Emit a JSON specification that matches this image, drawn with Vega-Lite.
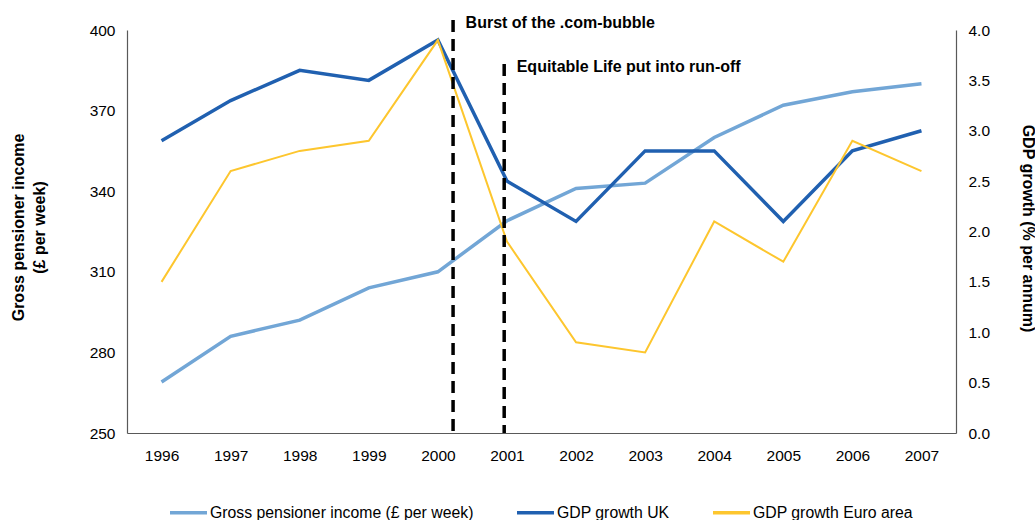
{
  "$schema": "https://vega.github.io/schema/vega-lite/v6.json",
  "width": 829,
  "height": 403,
  "autosize": {"type": "none"},
  "padding": {"left": 127, "top": 30, "right": 79, "bottom": 87},
  "background": "white",
  "config": {
    "view": {"stroke": null},
    "font": "Liberation Sans",
    "axis": {
      "grid": false,
      "ticks": false,
      "domainColor": "#595959",
      "domainWidth": 1.2,
      "labelColor": "#000000",
      "labelFont": "Liberation Sans",
      "labelFontSize": 15.5,
      "labelFlush": false,
      "labelOverlap": false,
      "titleFont": "Liberation Sans",
      "titleFontSize": 16,
      "titleFontWeight": "bold",
      "titleColor": "#000000"
    },
    "legend": {
      "labelFont": "Liberation Sans",
      "labelFontSize": 15.8,
      "labelColor": "#000000",
      "labelLimit": 0
    }
  },
  "datasets": {
    "series": [
      {"year": 1996, "series": "Gross pensioner income (£ per week)", "value": 269},
      {"year": 1997, "series": "Gross pensioner income (£ per week)", "value": 286},
      {"year": 1998, "series": "Gross pensioner income (£ per week)", "value": 292},
      {"year": 1999, "series": "Gross pensioner income (£ per week)", "value": 304},
      {"year": 2000, "series": "Gross pensioner income (£ per week)", "value": 310},
      {"year": 2001, "series": "Gross pensioner income (£ per week)", "value": 329},
      {"year": 2002, "series": "Gross pensioner income (£ per week)", "value": 341},
      {"year": 2003, "series": "Gross pensioner income (£ per week)", "value": 343},
      {"year": 2004, "series": "Gross pensioner income (£ per week)", "value": 360},
      {"year": 2005, "series": "Gross pensioner income (£ per week)", "value": 372},
      {"year": 2006, "series": "Gross pensioner income (£ per week)", "value": 377},
      {"year": 2007, "series": "Gross pensioner income (£ per week)", "value": 380},
      {"year": 1996, "series": "GDP growth UK", "value": 2.9},
      {"year": 1997, "series": "GDP growth UK", "value": 3.3},
      {"year": 1998, "series": "GDP growth UK", "value": 3.6},
      {"year": 1999, "series": "GDP growth UK", "value": 3.5},
      {"year": 2000, "series": "GDP growth UK", "value": 3.9},
      {"year": 2001, "series": "GDP growth UK", "value": 2.5},
      {"year": 2002, "series": "GDP growth UK", "value": 2.1},
      {"year": 2003, "series": "GDP growth UK", "value": 2.8},
      {"year": 2004, "series": "GDP growth UK", "value": 2.8},
      {"year": 2005, "series": "GDP growth UK", "value": 2.1},
      {"year": 2006, "series": "GDP growth UK", "value": 2.8},
      {"year": 2007, "series": "GDP growth UK", "value": 3.0},
      {"year": 1996, "series": "GDP growth Euro area", "value": 1.5},
      {"year": 1997, "series": "GDP growth Euro area", "value": 2.6},
      {"year": 1998, "series": "GDP growth Euro area", "value": 2.8},
      {"year": 1999, "series": "GDP growth Euro area", "value": 2.9},
      {"year": 2000, "series": "GDP growth Euro area", "value": 3.9},
      {"year": 2001, "series": "GDP growth Euro area", "value": 1.9},
      {"year": 2002, "series": "GDP growth Euro area", "value": 0.9},
      {"year": 2003, "series": "GDP growth Euro area", "value": 0.8},
      {"year": 2004, "series": "GDP growth Euro area", "value": 2.1},
      {"year": 2005, "series": "GDP growth Euro area", "value": 1.7},
      {"year": 2006, "series": "GDP growth Euro area", "value": 2.9},
      {"year": 2007, "series": "GDP growth Euro area", "value": 2.6}
    ],
    "events": [
      {"year": 2000.22, "top": 403.7, "bottom": 250, "label": "Burst of the .com-bubble"},
      {"year": 2000.96, "top": 387.3, "bottom": 250, "label": "Equitable Life put into run-off"}
    ]
  },
  "layer": [
    {
      "data": {"name": "series"},
      "transform": [{"filter": "datum.series === 'Gross pensioner income (£ per week)'"}],
      "mark": {"type": "line", "strokeWidth": 3.5},
      "encoding": {
        "x": {
          "field": "year", "type": "quantitative",
          "scale": {"domain": [1995.5, 2007.5], "nice": false, "zero": false},
          "axis": {"title": null, "values": [1996, 1997, 1998, 1999, 2000, 2001, 2002, 2003, 2004, 2005, 2006, 2007], "format": "d", "labelPadding": 15}
        },
        "y": {
          "field": "value", "type": "quantitative",
          "scale": {"domain": [250, 400], "nice": false, "zero": false},
          "axis": {
            "orient": "left",
            "values": [250, 280, 310, 340, 370, 400],
            "labelPadding": 12,
            "title": ["Gross pensioner income", "(£ per week)"],
            "titleAngle": -90,
            "titleAlign": "center",
            "titleBaseline": "middle",
            "titleLineHeight": 21,
            "titleX": -108.5,
            "titleY": 197
          }
        },
        "color": {
          "field": "series", "type": "nominal",
          "scale": {
            "domain": ["Gross pensioner income (£ per week)", "GDP growth UK", "GDP growth Euro area"],
            "range": ["#72A6D6", "#2060B0", "#FDC62E"]
          },
          "legend": {
            "title": null,
            "orient": "none",
            "direction": "horizontal",
            "legendX": 41,
            "legendY": 462,
            "symbolType": "stroke",
            "symbolSize": 1369,
            "symbolStrokeWidth": 3.5,
            "labelOffset": 1,
            "columnPadding": 36
          }
        }
      }
    },
    {
      "data": {"name": "series"},
      "transform": [{"filter": "datum.series !== 'Gross pensioner income (£ per week)'"}],
      "layer": [
        {
          "transform": [{"filter": "datum.series === 'GDP growth UK'"}],
          "mark": {"type": "line", "strokeWidth": 3.5},
          "encoding": {
            "x": {"field": "year", "type": "quantitative"},
            "y": {
              "field": "value", "type": "quantitative",
              "scale": {"domain": [0, 4], "nice": false},
              "axis": {
                "orient": "right",
                "values": [0, 0.5, 1, 1.5, 2, 2.5, 3, 3.5, 4],
                "format": ".1f",
                "labelPadding": 12,
                "title": "GDP growth (% per annum)",
                "titleAngle": 90,
                "titleAlign": "center",
                "titleBaseline": "middle",
                "titleX": 71,
                "titleY": 198
              }
            },
            "color": {"field": "series", "type": "nominal"}
          }
        },
        {
          "transform": [{"filter": "datum.series === 'GDP growth Euro area'"}],
          "mark": {"type": "line", "strokeWidth": 2},
          "encoding": {
            "x": {"field": "year", "type": "quantitative"},
            "y": {"field": "value", "type": "quantitative"},
            "color": {"field": "series", "type": "nominal"}
          }
        }
      ]
    },
    {
      "data": {"name": "events"},
      "layer": [
        {
          "mark": {"type": "rule", "color": "#000000", "strokeWidth": 3.5, "strokeDash": [12, 7]},
          "encoding": {
            "x": {"field": "year", "type": "quantitative"},
            "y": {"field": "top", "type": "quantitative", "scale": {"domain": [250, 400], "nice": false, "zero": false}, "axis": null},
            "y2": {"field": "bottom"}
          }
        },
        {
          "mark": {"type": "text", "align": "left", "baseline": "alphabetic", "dx": 12.5, "dy": 8, "fontSize": 16, "fontWeight": "bold", "font": "Liberation Sans", "color": "#000000"},
          "encoding": {
            "x": {"field": "year", "type": "quantitative"},
            "y": {"field": "top", "type": "quantitative"},
            "text": {"field": "label"}
          }
        }
      ]
    }
  ],
  "resolve": {"scale": {"y": "independent"}}
}
